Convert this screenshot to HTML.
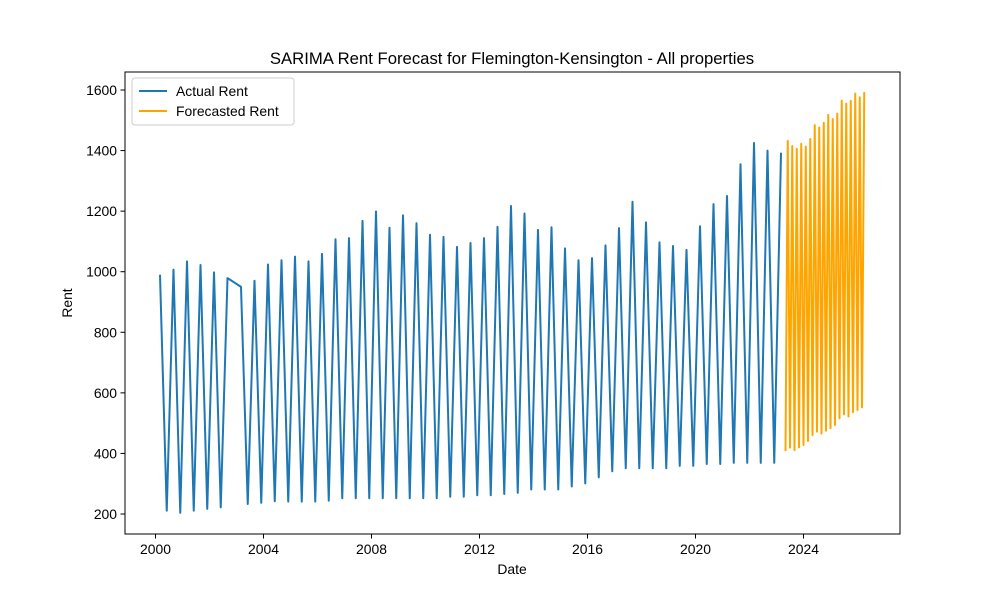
<!DOCTYPE html>
<html><head><meta charset="utf-8"><style>
body{margin:0;background:#fff;}
svg{display:block;font-family:"Liberation Sans","DejaVu Sans",sans-serif;}
</style></head><body>
<svg id="chart" width="1000" height="600" viewBox="0 0 1000 600" xmlns="http://www.w3.org/2000/svg">
<rect width="1000" height="600" fill="#fff"/>
<text x="512" y="64" text-anchor="middle" font-size="16.7" fill="#000">SARIMA Rent Forecast for Flemington-Kensington - All properties</text>
<g id="xticks"></g>
<g id="yticks"></g>
<g id="series"></g>
<rect x="125" y="72" width="775" height="462" fill="none" stroke="#000" stroke-width="1"/>
<text x="512" y="574" text-anchor="middle" font-size="13.9">Date</text>
<text transform="translate(72,303) rotate(-90)" text-anchor="middle" font-size="13.9">Rent</text>
<g>
<rect x="132" y="78" width="162" height="47" rx="3" fill="#fff" fill-opacity="0.8" stroke="#ccc"/>
<g>
<line x1="139" y1="91" x2="167" y2="91" stroke="#1f77b4" stroke-width="2"/>
<text x="176" y="96" font-size="13.9">Actual Rent</text></g>
<g>
<line x1="139" y1="111" x2="167" y2="111" stroke="#ffa500" stroke-width="2"/>
<text x="176" y="116" font-size="13.9">Forecasted Rent</text></g>
</g>
</svg>
<script>
// Actual: quarterly dates (year fraction), values
const actualDates = [];
const actualValues = [990,211,1007,204,1034,211,1022,217,998,222,979,950,233,970,237,1024,242,1038,241,1050,241,1034,241,1059,244,1107,252,1111,252,1168,252,1199,252,1145,252,1186,252,1160,252,1122,252,1115,257,1082,257,1095,262,1111,262,1148,266,1217,270,1192,281,1138,281,1147,281,1077,291,1038,301,1045,321,1087,341,1144,351,1231,351,1163,351,1097,351,1085,359,1072,359,1150,365,1223,365,1250,369,1355,369,1425,369,1400,369,1393];
(function(){ // build dates: indices 0..10, skip 11, then 12..92
  const idx=[]; for(let i=0;i<=10;i++)idx.push(i); for(let i=12;i<=92;i++)idx.push(i);
  idx.forEach(i=>actualDates.push(2000+2/12+0.25*i));
})();
const forecastValues = [408,1432,419,1415,411,1406,420,1422,428,1413,441,1438,461,1484,472,1476,466,1492,475,1518,483,1504,494,1522,516,1565,529,1555,522,1564,536,1588,543,1576,552,1593];
const forecastDates = forecastValues.map((v,j)=>2023+4/12+j/12);
const xTicks = [2000,2004,2008,2012,2016,2020,2024];
const yTicks = [200,400,600,800,1000,1200,1400,1600];

const X = t => 155.5 + (t-2000)*27.0;
const Y = v => 514 - (v-200)*0.30286;
const NS="http://www.w3.org/2000/svg";
function mk(tag,attrs,parent){const e=document.createElementNS(NS,tag);for(const k in attrs)e.setAttribute(k,attrs[k]);parent.appendChild(e);return e;}

const xg=document.getElementById('xticks');
xTicks.forEach(t=>{
  const l=mk('line',{x1:X(t),x2:X(t),y1:534,y2:538.5,stroke:'#000'},xg);
  
  
  const tx=mk('text',{x:X(t),y:554,'text-anchor':'middle','font-size':13.9},xg);
  tx.textContent=t;
  
  
});
const yg=document.getElementById('yticks');
yTicks.forEach(v=>{
  const l=mk('line',{x1:120.5,x2:125,y1:Y(v),y2:Y(v),stroke:'#000'},yg);
  
  
  const tx=mk('text',{x:117,y:Y(v)+5,'text-anchor':'end','font-size':13.9},yg);
  tx.textContent=v;
  
  
});
const sg=document.getElementById('series');
const pa=actualValues.map((v,i)=>X(actualDates[i]).toFixed(2)+','+Y(v).toFixed(2)).join(' ');
const a=mk('polyline',{points:pa,fill:'none',stroke:'#1f77b4','stroke-width':2,'stroke-linejoin':'round'},sg);


const pf=forecastValues.map((v,i)=>X(forecastDates[i]).toFixed(2)+','+Y(v).toFixed(2)).join(' ');
const f=mk('polyline',{points:pf,fill:'none',stroke:'#ffa500','stroke-width':2,'stroke-linejoin':'round'},sg);


</script>
</body></html>
